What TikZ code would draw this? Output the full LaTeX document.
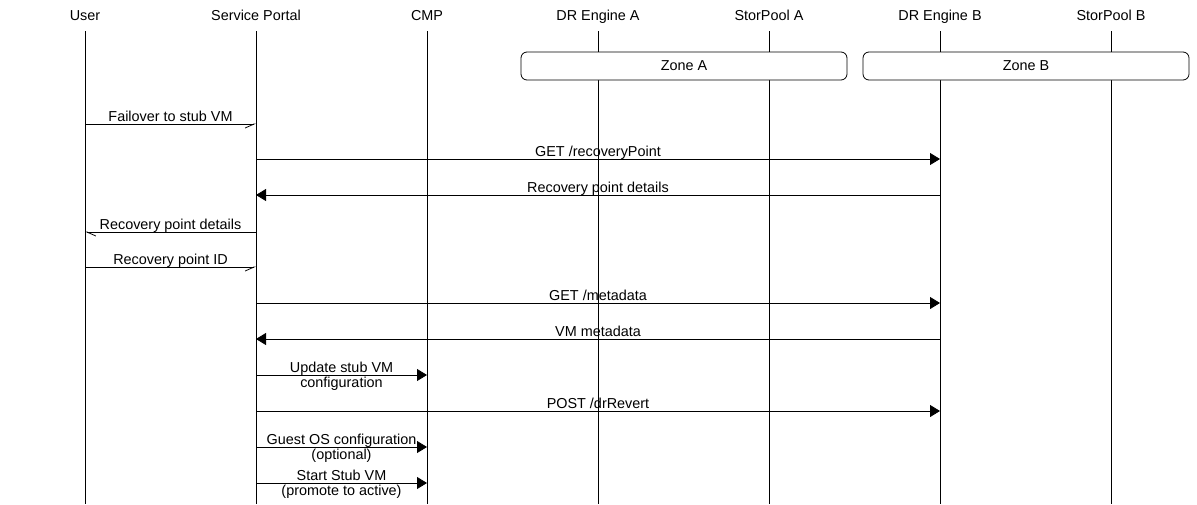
\documentclass[tikz,border=0pt]{standalone}
\usepackage{fontspec}
\setmainfont{Liberation Sans}
\usetikzlibrary{arrows.meta,positioning}

\begin{document}
\begin{tikzpicture}[x=1pt, y=-1pt, node distance=171pt, font=\fontsize{14.4}{13.5}\selectfont]
\tikzset{
  actor/.style={on grid, minimum height=28pt, inner sep=0pt, text height=10.5pt, text depth=3pt},
  life/.style={line width=0.8pt},
  zone/.style={draw, fill=white, line width=0.8pt, rounded corners=6pt, minimum height=28pt},
  call/.style={-{Triangle[length=10pt, width=12pt]}, line width=0.8pt},
  async/.style={-{Straight Barb[harpoon, swap, length=9pt, width=8pt]}, line width=0.8pt},
  reply/.style={-{Straight Barb[harpoon, length=9pt, width=8pt]}, line width=0.8pt},
  lbl/.style={above=2.5pt, inner sep=0pt, text depth=0pt},
  lbl2/.style={align=center, inner sep=0pt, yshift=-1pt, font=\fontsize{14.4}{15}\selectfont},
}
\useasboundingbox (0,0) rectangle (1197,504);

% Participants
\node (user) [actor] at (85,17) {User};
\node (portal) [actor, right=of user] {Service Portal};
\node (cmp) [actor, right=of portal] {CMP};
\node (drA) [actor, right=of cmp] {DR Engine A};
\node (poolA) [actor, right=of drA] {StorPool A};
\node (drB) [actor, right=of poolA] {DR Engine B};
\node (poolB) [actor, right=of drB] {StorPool B};

% Lifelines
\coordinate (bottom) at (0,504);
\foreach \p in {user,portal,cmp,drA,poolA,drB,poolB}
  \draw[life] (\p.south) -- (\p.south |- bottom);

% Zones
\node (zoneA) [zone, minimum width=326pt] at (684,66) {Zone A};
\node (zoneB) [zone, minimum width=326pt] at (1026,66) {Zone B};

% Messages
\draw[async] (user |- 0,124) -- node[lbl] {Failover to stub VM} (portal |- 0,124);
\draw[call] (portal |- 0,159) -- node[lbl] {GET /recoveryPoint} (drB |- 0,159);
\draw[call] (drB |- 0,195) -- node[lbl] {Recovery point details} (portal |- 0,195);
\draw[reply] (portal |- 0,232) -- node[lbl] {Recovery point details} (user |- 0,232);
\draw[async] (user |- 0,267) -- node[lbl] {Recovery point ID} (portal |- 0,267);
\draw[call] (portal |- 0,303) -- node[lbl] {GET /metadata} (drB |- 0,303);
\draw[call] (drB |- 0,339) -- node[lbl] {VM metadata} (portal |- 0,339);
\draw[call] (portal |- 0,375) -- node[lbl2] {Update stub VM\\configuration} (cmp |- 0,375);
\draw[call] (portal |- 0,411) -- node[lbl] {POST /drRevert} (drB |- 0,411);
\draw[call] (portal |- 0,447) -- node[lbl2] {Guest OS configuration\\(optional)} (cmp |- 0,447);
\draw[call] (portal |- 0,483) -- node[lbl2] {Start Stub VM\\(promote to active)} (cmp |- 0,483);

\end{tikzpicture}
\end{document}
